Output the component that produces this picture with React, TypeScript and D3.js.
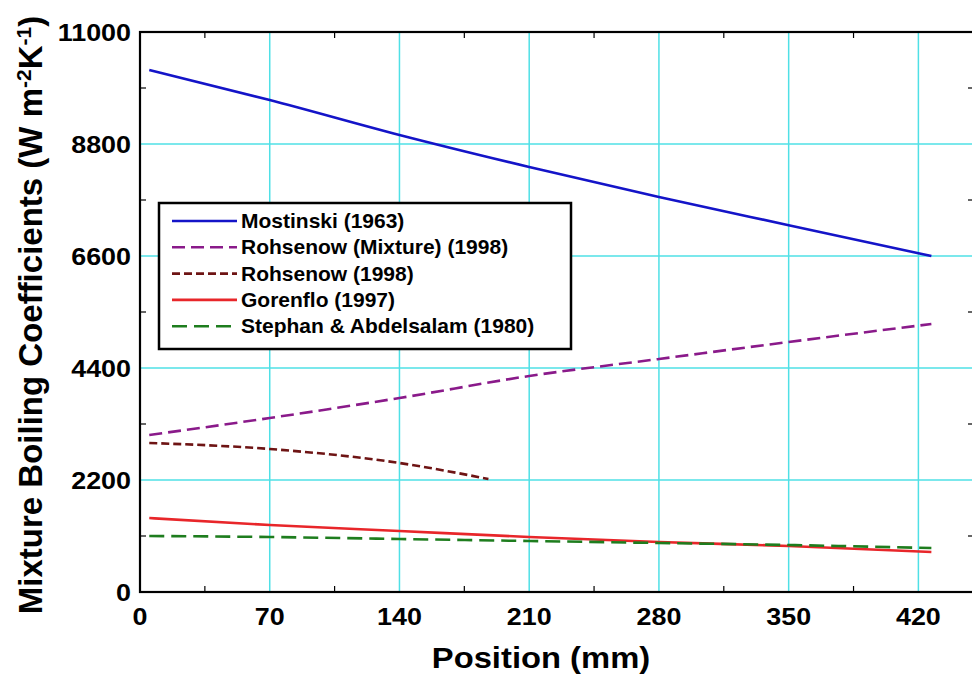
import React from "react";
import * as d3 from "d3";

// positions along the tube (mm)
const positions = [5, 70, 140, 210, 280, 350, 427];
const rohsenowPositions = [5, 70, 140, 188];

// boiling coefficients (W m-2 K-1)
const mostinski = [10254, 9664, 8977, 8348, 7759, 7205, 6600];
const rohsenowMixture = [3084, 3418, 3811, 4243, 4577, 4911, 5264];
const rohsenow = [2927, 2809, 2534, 2220];
const gorenflo = [1453, 1316, 1198, 1080, 982, 904, 786];
const stephan = [1100, 1080, 1041, 1002, 963, 923, 864];

const xTicks = [0, 70, 140, 210, 280, 350, 420];
const yTicks = [0, 2200, 4400, 6600, 8800, 11000];

const seriesNames = [
  "Mostinski (1963)",
  "Rohsenow (Mixture) (1998)",
  "Rohsenow (1998)",
  "Gorenflo (1997)",
  "Stephan & Abdelsalam (1980)",
];

const W = 972;
const H = 677;
const left = 140;
const right = 974;
const top = 32;
const bottom = 592;

const font = "'Liberation Sans', Arial, sans-serif";

export default function App() {
  const x = d3.scaleLinear().domain([0, 450]).range([left, right]);
  const y = d3.scaleLinear().domain([0, 11000]).range([bottom, top]);

  const line = d3
    .line<[number, number]>()
    .x((d) => x(d[0]))
    .y((d) => y(d[1]))
    .curve(d3.curveMonotoneX);

  const zip = (xs: number[], ys: number[]) =>
    xs.map((v, i) => [v, ys[i]] as [number, number]);

  const series = [
    { name: seriesNames[0], pts: zip(positions, mostinski), color: "#1414c8", dash: "" },
    { name: seriesNames[1], pts: zip(positions, rohsenowMixture), color: "#8a1a8a", dash: "13,6" },
    { name: seriesNames[2], pts: zip(rohsenowPositions, rohsenow), color: "#6e1414", dash: "8,4" },
    { name: seriesNames[3], pts: zip(positions, gorenflo), color: "#e8262a", dash: "" },
    { name: seriesNames[4], pts: zip(positions, stephan), color: "#1e7d1e", dash: "15,7" },
  ];

  const minorX = d3.range(35, 450, 70);
  const minorY = d3.range(1100, 11000, 2200);

  const legX = 159;
  const legY = 203;
  const rowH = 26.3;

  return (
    <div style={{ position: "fixed", left: 0, top: 0 }}>
      <svg width={W} height={H} style={{ display: "block", background: "#fff" }}>
        {/* grid */}
        {xTicks.slice(1).map((t) => (
          <line key={"gx" + t} x1={x(t)} x2={x(t)} y1={top} y2={bottom} stroke="#4fe0e6" strokeWidth={1.5} />
        ))}
        {yTicks.slice(1, -1).map((t) => (
          <line key={"gy" + t} x1={left} x2={right} y1={y(t)} y2={y(t)} stroke="#4fe0e6" strokeWidth={1.5} />
        ))}

        {/* minor ticks */}
        {minorX.map((t) => (
          <g key={"mx" + t}>
            <line x1={x(t)} x2={x(t)} y1={bottom} y2={bottom - 6} stroke="#000" strokeWidth={1.2} />
            <line x1={x(t)} x2={x(t)} y1={top} y2={top + 6} stroke="#000" strokeWidth={1.2} />
          </g>
        ))}
        {minorY.map((t) => (
          <g key={"my" + t}>
            <line x1={left} x2={left + 6} y1={y(t)} y2={y(t)} stroke="#000" strokeWidth={1.2} />
            <line x1={right} x2={right - 6} y1={y(t)} y2={y(t)} stroke="#000" strokeWidth={1.2} />
          </g>
        ))}

        {/* data lines */}
        {series.map((s) => (
          <path
            key={s.name}
            d={line(s.pts) || ""}
            fill="none"
            stroke={s.color}
            strokeWidth={2.6}
            strokeDasharray={s.dash}
          />
        ))}

        {/* frame */}
        <rect x={left} y={top} width={right - left} height={bottom - top} fill="none" stroke="#000" strokeWidth={2.2} />

        {/* tick labels */}
        <g fontFamily={font} fontWeight="bold" fontSize={24} fill="#000">
          {xTicks.map((t) => (
            <text key={"xl" + t} transform={`translate(${x(t)},625) scale(1.12,1)`} textAnchor="middle">
              {t}
            </text>
          ))}
          {yTicks.map((t) => (
            <text key={"yl" + t} transform={`translate(131,${y(t) + 8.5}) scale(1.12,1)`} textAnchor="end">
              {t}
            </text>
          ))}
        </g>

        {/* axis titles */}
        <text
          transform="translate(541,668) scale(1.13,1)"
          textAnchor="middle"
          fontFamily={font}
          fontWeight="bold"
          fontSize={29}
        >
          Position (mm)
        </text>
        <text
          transform={`translate(42, ${(top + bottom) / 2 + 3}) rotate(-90)`}
          textAnchor="middle"
          fontFamily={font}
          fontWeight="bold"
          fontSize={33}
        >
          Mixture Boiling Coefficients (W m
          <tspan baselineShift="super" fontSize={21}>-2</tspan>
          K
          <tspan baselineShift="super" fontSize={21}>-1</tspan>)
        </text>

        {/* legend */}
        <rect x={legX} y={legY} width={412} height={146} fill="#fff" stroke="#000" strokeWidth={2.5} />
        {series.map((s, i) => {
          const cy = 221 + i * rowH;
          return (
            <g key={"lg" + s.name}>
              <line x1={172} x2={237} y1={cy} y2={cy} stroke={s.color} strokeWidth={2.6} strokeDasharray={s.dash} />
              <text
                transform={`translate(241,${cy + 7}) scale(1.05,1)`}
                fontFamily={font}
                fontWeight="bold"
                fontSize={20}
              >
                {s.name}
              </text>
            </g>
          );
        })}
      </svg>
    </div>
  );
}
